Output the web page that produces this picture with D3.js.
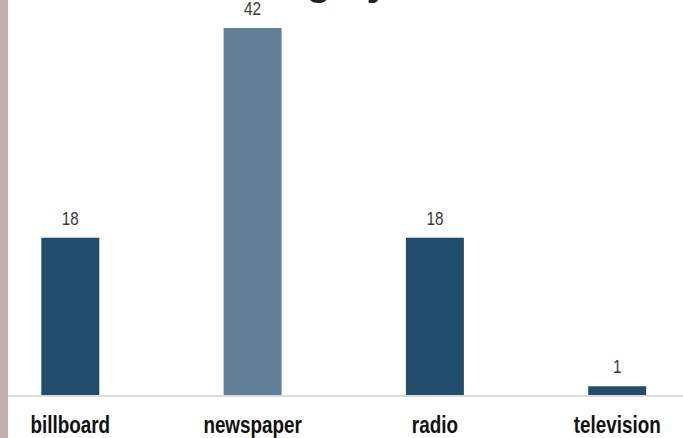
<!DOCTYPE html>
<html>
<head>
<meta charset="utf-8">
<script src="https://cdn.jsdelivr.net/npm/d3@7"></script>
<style>
  html, body { margin: 0; padding: 0; background: #ffffff; overflow: hidden; }
  svg { display: block; }
</style>
</head>
<body>
<svg id="chart" width="683" height="438"></svg>
<script>
const titleText = "Advertising by Media";
const categories = ["billboard", "newspaper", "radio", "television"];
const counts = [18, 42, 18, 1];
const highlight = ["newspaper"];

const W = 683, H = 438;
const svg = d3.select("#chart");

svg.append("rect").attr("x", 0).attr("y", 0).attr("width", W).attr("height", H).attr("fill", "#ffffff");
// left accent strip
svg.append("rect").attr("x", 0).attr("y", 0).attr("width", 8).attr("height", H).attr("fill", "#bcb1ae");

const x = d3.scaleBand()
  .domain(categories)
  .range([-20.85, 708.35])
  .paddingInner(0.682)
  .paddingOuter(0.341);

const y = d3.scaleLinear().domain([0, 42]).range([395, 28]);

const data = categories.map((c, i) => ({ cat: c, val: counts[i] }));

// title (cropped at top in the original)
svg.append("text")
  .attr("x", 111)
  .attr("y", -5.5)
  .attr("text-anchor", "start")
  .attr("font-family", "'Liberation Sans', Arial, sans-serif")
  .attr("font-weight", "bold")
  .attr("font-size", 40)
  .attr("fill", "#222222")
  .text(titleText);

// baseline
svg.append("line")
  .attr("x1", 8).attr("x2", W)
  .attr("y1", y(0) + 1).attr("y2", y(0) + 1)
  .attr("stroke", "#dcdcdc").attr("stroke-width", 2);

// bars
svg.selectAll("rect.bar").data(data).join("rect")
  .attr("class", "bar")
  .attr("x", d => x(d.cat))
  .attr("width", x.bandwidth())
  .attr("y", d => y(d.val))
  .attr("height", d => y(0) - y(d.val))
  .attr("fill", d => highlight.includes(d.cat) ? "#617f96" : "#224d6b");

// value labels
svg.selectAll("g.val").data(data).join("g")
  .attr("class", "val")
  .attr("transform", d => `translate(${x(d.cat) + x.bandwidth() / 2}, ${y(d.val) - 13})`)
  .append("text")
  .attr("transform", "scale(0.85,1)")
  .attr("text-anchor", "middle")
  .attr("font-family", "'Liberation Sans', Arial, sans-serif")
  .attr("font-size", 18)
  .attr("fill", "#3a3a3a")
  .text(d => d.val);

// category labels
const xAxis = d3.axisBottom(x).tickSize(0).tickPadding(0);
const gx = svg.append("g").attr("transform", `translate(0, 433)`).call(xAxis);
gx.select(".domain").remove();
gx.selectAll("text")
  .attr("dy", 0)
  .attr("y", 0)
  .attr("transform", "scale(0.82,1)")
  .attr("font-family", "'Liberation Sans', Arial, sans-serif")
  .attr("font-weight", "bold")
  .attr("font-size", 23)
  .attr("fill", "#111111");
</script>
</body>
</html>
